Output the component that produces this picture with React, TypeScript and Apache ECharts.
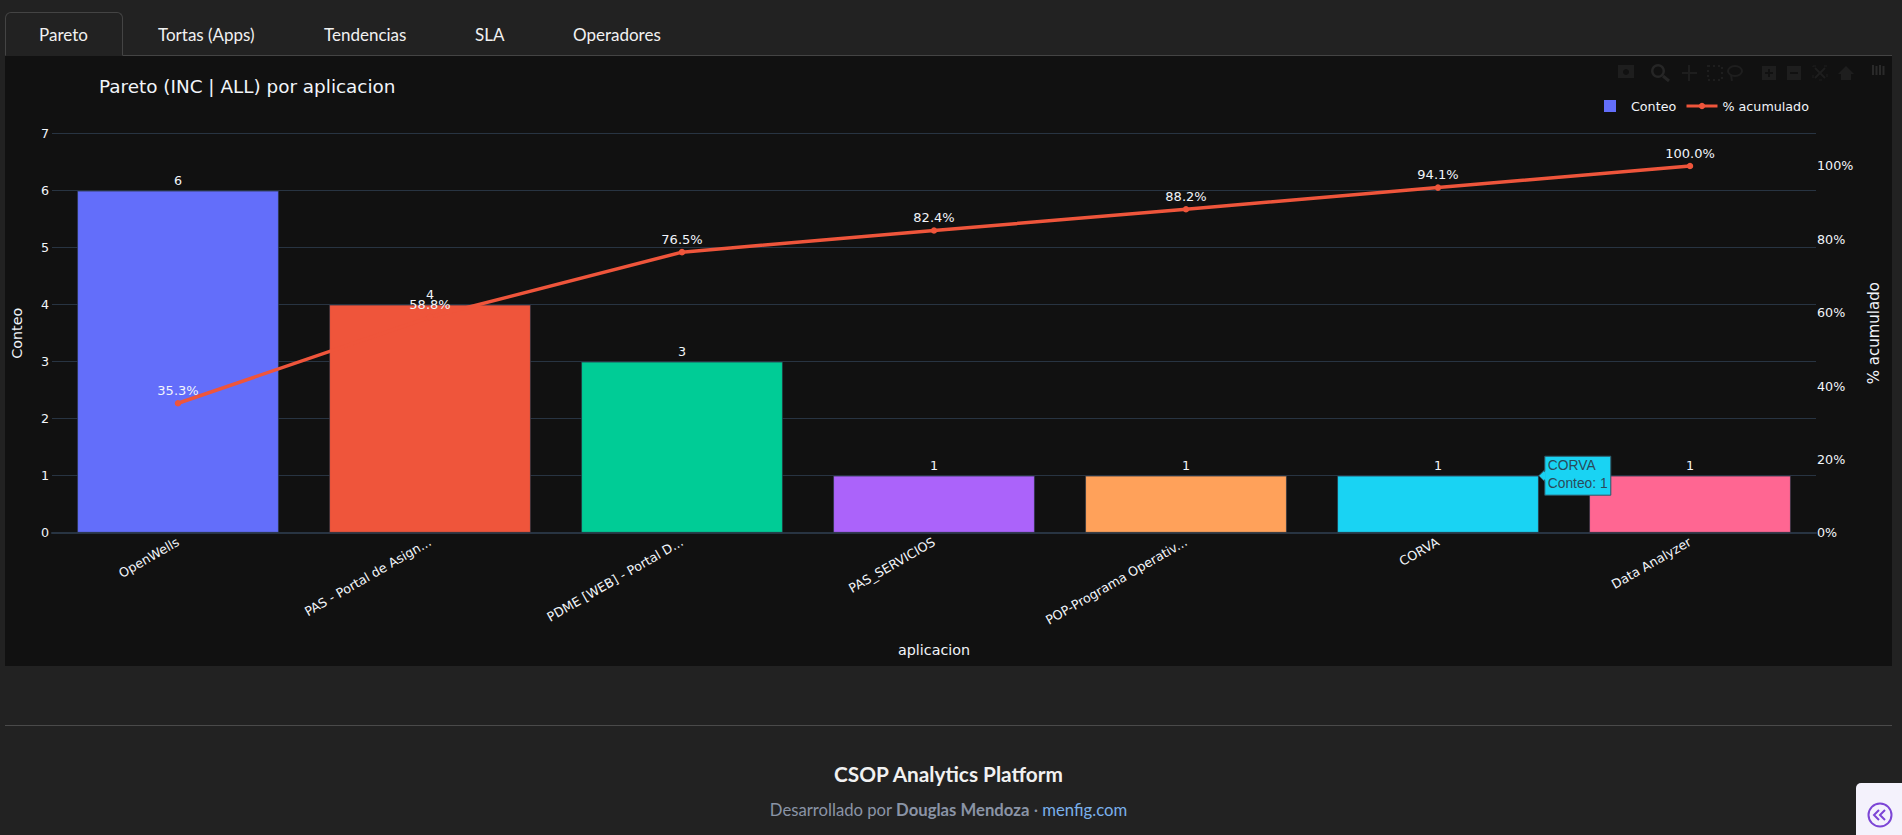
import React, { useEffect, useRef } from "react";
import * as echarts from "echarts";

const categories = [
  "OpenWells",
  "PAS - Portal de Asign...",
  "PDME [WEB] - Portal D...",
  "PAS_SERVICIOS",
  "POP-Programa Operativ...",
  "CORVA",
  "Data Analyzer",
];
const counts = [6, 4, 3, 1, 1, 1, 1];
const cumulative = [35.3, 58.8, 76.5, 82.4, 88.2, 94.1, 100.0];
const barColors = ["#636EFA", "#EF553B", "#00CC96", "#AB63FA", "#FFA15A", "#19D3F3", "#FF6692"];
const lineColor = "#EF553B";
const tabs = [
  { label: "Pareto", x: 39 },
  { label: "Tortas (Apps)", x: 158 },
  { label: "Tendencias", x: 324 },
  { label: "SLA", x: 475 },
  { label: "Operadores", x: 573 },
];
const hoverIndex = 5;

const PANEL_X = 5;
const PANEL_Y = 56;
const PANEL_W = 1887;
const PANEL_H = 610;
const FONT = '"DejaVu Sans", sans-serif';
const TEXT = "#f2f5fa";
const GRID = "#283442";
const ICON = "#1e1e1e";
const ICON2 = "#262626";

function modebar(): any[] {
  const s = { fill: ICON };
  const ln = { stroke: ICON, lineWidth: 2 };
  const y = 17;
  return [
    { type: "rect", shape: { x: 1613, y: y - 8, width: 16, height: 13 }, style: s },
    { type: "circle", shape: { cx: 1621, cy: y - 1, r: 3 }, style: { fill: "#111111" } },
    { type: "ring", shape: { cx: 1653, cy: y - 2, r: 7, r0: 4.5 }, style: { fill: ICON2 } },
    { type: "line", shape: { x1: 1658, y1: y + 3, x2: 1664, y2: y + 8 }, style: { stroke: ICON2, lineWidth: 3 } },
    { type: "line", shape: { x1: 1677, y1: y, x2: 1692, y2: y }, style: ln },
    { type: "line", shape: { x1: 1684, y1: y - 8, x2: 1684, y2: y + 8 }, style: ln },
    { type: "rect", shape: { x: 1703, y: y - 7, width: 14, height: 14 }, style: { fill: "none", stroke: ICON, lineWidth: 2, lineDash: [2, 3] } },
    { type: "ellipse", shape: { cx: 1730, cy: y - 2, rx: 7, ry: 5 }, style: { fill: "none", stroke: ICON, lineWidth: 2 } },
    { type: "line", shape: { x1: 1726, y1: y + 2, x2: 1727, y2: y + 8 }, style: ln },
    { type: "rect", shape: { x: 1757, y: y - 7, width: 14, height: 14 }, style: s },
    { type: "line", shape: { x1: 1760, y1: y, x2: 1768, y2: y }, style: { stroke: "#111111", lineWidth: 2 } },
    { type: "line", shape: { x1: 1764, y1: y - 4, x2: 1764, y2: y + 4 }, style: { stroke: "#111111", lineWidth: 2 } },
    { type: "rect", shape: { x: 1782, y: y - 7, width: 14, height: 14 }, style: s },
    { type: "line", shape: { x1: 1785, y1: y, x2: 1793, y2: y }, style: { stroke: "#111111", lineWidth: 2 } },
    { type: "rect", shape: { x: 1808, y: y - 7, width: 14, height: 14 }, style: { fill: "none", stroke: ICON, lineWidth: 1, lineDash: [3, 8] } },
    { type: "line", shape: { x1: 1810, y1: y - 5, x2: 1820, y2: y + 5 }, style: ln },
    { type: "line", shape: { x1: 1820, y1: y - 5, x2: 1810, y2: y + 5 }, style: ln },
    { type: "polygon", shape: { points: [[1833, y + 1], [1841, y - 7], [1849, y + 1], [1846, y + 1], [1846, y + 7], [1836, y + 7], [1836, y + 1]] }, style: s },
    ...[0, 1, 2, 3].map((i) => ({
      type: "rect",
      shape: { x: 1867 + i * 3.5, y: y - 8 + (i % 2) * 1, width: 2, height: 10 - (i % 2) },
      style: { fill: "#2a2a2a" },
    })),
  ];
}

function hoverLabel(chart: any): any[] {
  const c0 = chart.convertToPixel({ xAxisIndex: 0 }, categories[hoverIndex]);
  const c1 = chart.convertToPixel({ xAxisIndex: 0 }, categories[hoverIndex + 1]);
  const tipX = c0 + (c1 - c0) * 0.4;
  const tipY = chart.convertToPixel({ yAxisIndex: 0 }, counts[hoverIndex]);
  const fill = barColors[hoverIndex];
  const border = "#2f5563";
  const tc = "#2a4a5a";
  const z = 100;
  const font = '13.8px "Liberation Sans", Arial, sans-serif';
  return [
    {
      type: "group",
      x: tipX,
      y: tipY,
      children: [
        { type: "polygon", z, shape: { points: [[0, 0], [6, -6], [6, 6]] }, style: { fill, stroke: border, lineWidth: 1 } },
        { type: "rect", z, shape: { x: 6, y: -19.5, width: 66, height: 39 }, style: { fill, stroke: border, lineWidth: 1 } },
        { type: "polygon", z, shape: { points: [[1.5, 0], [7, -5], [7, 5]] }, style: { fill } },
        { type: "text", z: z + 1, x: 9, y: -10, style: { text: categories[hoverIndex], fill: tc, font, verticalAlign: "middle" } },
        { type: "text", z: z + 1, x: 9, y: 8, style: { text: "Conteo: " + counts[hoverIndex], fill: tc, font, verticalAlign: "middle" } },
      ],
    },
  ];
}

function Chart() {
  const ref = useRef<HTMLDivElement>(null);
  useEffect(() => {
    const chart = echarts.init(ref.current!, undefined, { renderer: "svg" });
    const option: any = {
      animation: false,
      backgroundColor: "#111111",
      textStyle: { fontFamily: FONT, color: TEXT },
      title: {
        text: "Pareto (INC | ALL) por aplicacion",
        left: 89,
        top: 16,
        textStyle: { color: TEXT, fontSize: 18.4, fontWeight: "normal", fontFamily: FONT },
      },
      legend: [
        {
          data: [{ name: "Conteo", icon: "rect" }],
          left: 1599,
          top: 43.5,
          padding: 0,
          itemWidth: 12,
          itemHeight: 12,
          selectedMode: false,
          textStyle: { color: TEXT, fontSize: 12.7, fontFamily: FONT, padding: [0, 0, 0, 10] },
        },
        {
          data: ["% acumulado"],
          left: 1680,
          top: 43.5,
          padding: 0,
          itemWidth: 31,
          itemHeight: 8,
          selectedMode: false,
          lineStyle: { width: 3 },
          textStyle: { color: TEXT, fontSize: 12.7, fontFamily: FONT, padding: 0 },
        },
      ],
      grid: { left: 47, top: 77.7, width: 1764, height: 399, containLabel: false, outerBoundsMode: "none" },
      xAxis: {
        type: "category",
        data: categories,
        name: "aplicacion",
        nameLocation: "middle",
        nameGap: 110,
        nameTextStyle: { color: TEXT, fontSize: 14.3, fontFamily: FONT },
        axisTick: { show: false },
        axisLine: { show: true, lineStyle: { color: GRID, width: 2 } },
        axisLabel: { rotate: 30, color: TEXT, fontSize: 12.7, fontFamily: FONT, margin: 8, interval: 0 },
      },
      yAxis: [
        {
          type: "value",
          min: 0,
          max: 7,
          interval: 1,
          name: "Conteo",
          nameLocation: "middle",
          nameGap: 28,
          nameTextStyle: { color: TEXT, fontSize: 14.3, fontFamily: FONT },
          axisLine: { show: false },
          axisTick: { show: false },
          axisLabel: { color: TEXT, fontSize: 12.7, fontFamily: FONT, margin: 3 },
          splitLine: { show: true, lineStyle: { color: GRID, width: 1 } },
        },
        {
          type: "value",
          position: "right",
          min: 0,
          max: 108.8,
          interval: 20,
          name: "% acumulado",
          nameLocation: "middle",
          nameGap: 50,
          nameTextStyle: { color: TEXT, fontSize: 15, fontFamily: FONT },
          axisLine: { show: false },
          axisTick: { show: false },
          axisLabel: {
            color: TEXT,
            fontSize: 12.7,
            fontFamily: FONT,
            margin: 1,
            showMaxLabel: false,
            formatter: (v: number) => (v % 20 === 0 ? v + "%" : ""),
          },
          splitLine: { show: false },
        },
      ],
      series: [
        {
          name: "Conteo",
          type: "bar",
          barWidth: "80%",
          itemStyle: { color: barColors[0] },
          data: counts.map((v, i) => ({
            value: v,
            itemStyle: { color: barColors[i], borderColor: GRID, borderWidth: 0.7 },
          })),
          label: { show: true, position: "top", color: TEXT, fontSize: 12.7, fontFamily: FONT, distance: 4 },
        },
        {
          name: "% acumulado",
          type: "line",
          yAxisIndex: 1,
          data: cumulative,
          z: 5,
          symbol: "circle",
          symbolSize: 6.5,
          itemStyle: { color: lineColor },
          lineStyle: { color: lineColor, width: 3.5 },
          label: {
            show: true,
            position: "top",
            color: TEXT,
            fontSize: 13,
            fontFamily: FONT,
            distance: 3,
            formatter: (p: any) => Number(p.value).toFixed(1) + "%",
          },
        },
      ],
    };
    chart.setOption(option);
    chart.setOption({ graphic: { elements: [...modebar(), ...hoverLabel(chart)] } });
    return () => chart.dispose();
  }, []);
  return (
    <div
      ref={ref}
      style={{ position: "absolute", left: PANEL_X, top: PANEL_Y, width: PANEL_W, height: PANEL_H }}
    />
  );
}

export default function App() {
  useEffect(() => {
    document.body.style.margin = "0";
    document.body.style.background = "#222222";
  }, []);
  const tabText = { position: "absolute", top: 24, fontSize: 17, lineHeight: "22px", color: "#f1f1f1", whiteSpace: "nowrap" } as const;
  return (
    <div
      style={{
        position: "fixed",
        left: 0,
        top: 0,
        width: 1902,
        height: 835,
        overflow: "hidden",
        background: "#222222",
        fontFamily: "Lato, sans-serif",
      }}
    >
      <div style={{ position: "absolute", left: 5, right: 10, top: 55, height: 1, background: "#444444" }} />
      <div
        style={{
          position: "absolute",
          left: 5,
          top: 12,
          width: 118,
          height: 44,
          background: "#222222",
          border: "1px solid #444444",
          borderBottom: "1px solid #222222",
          borderRadius: "6px 6px 0 0",
          boxSizing: "border-box",
        }}
      />
      {tabs.map((t) => (
        <div key={t.label} style={{ ...tabText, left: t.x }}>
          {t.label}
        </div>
      ))}
      <Chart />
      <div style={{ position: "absolute", left: 5, width: 1887, top: 725, height: 1, background: "#4a4a4a" }} />
      <div
        style={{
          position: "absolute",
          left: 5,
          width: 1887,
          top: 762,
          textAlign: "center",
          fontSize: 20.8,
          lineHeight: "24px",
          fontWeight: 700,
          color: "#f1f1f1",
        }}
      >
        CSOP Analytics Platform
      </div>
      <div
        style={{
          position: "absolute",
          left: 5,
          width: 1887,
          top: 798,
          textAlign: "center",
          fontSize: 16.7,
          lineHeight: "24px",
          color: "#8a94a6",
        }}
      >
        Desarrollado por <b>Douglas Mendoza</b> · <span style={{ color: "#7ab0ea" }}>menfig.com</span>
      </div>
      <div
        style={{
          position: "absolute",
          left: 1856,
          top: 783,
          width: 46,
          height: 52,
          background: "#f4f2fc",
          borderRadius: "5px 0 0 0",
        }}
      >
        <svg width="46" height="52" style={{ display: "block" }}>
          <circle cx="24" cy="32" r="11.5" fill="none" stroke="#7c45d6" strokeWidth="2" />
          <path d="M23 27l-5 5 5 5M29 27l-5 5 5 5" fill="none" stroke="#7c45d6" strokeWidth="2" />
        </svg>
      </div>
    </div>
  );
}
